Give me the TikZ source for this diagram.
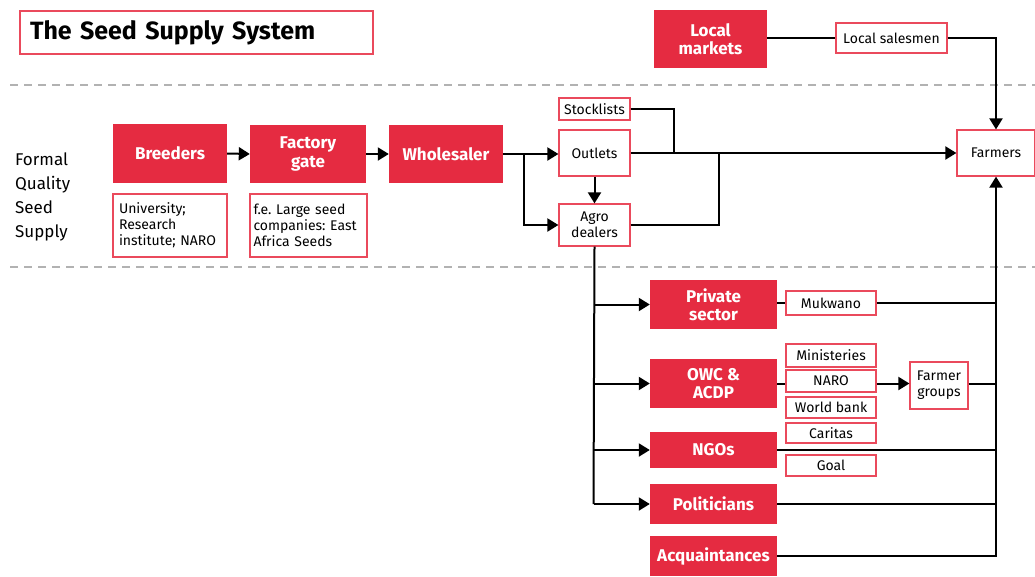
\documentclass[tikz,border=0pt]{standalone}
\usepackage{fontspec}
\setmainfont{Fira Sans}
\frenchspacing
\usetikzlibrary{arrows.meta,positioning}
\definecolor{sred}{HTML}{E52B41}
\definecolor{bred}{HTML}{EA4A5C}
\tikzset{
  redbox/.style={fill=sred,text=white,font=\bfseries\fontsize{17}{18.5}\selectfont,align=center,inner sep=0pt},
  wbox/.style={draw=bred,line width=1.2pt,fill=white,font=\fontsize{14}{16}\selectfont,align=center,inner sep=0pt},
  conn/.style={line width=2pt,line join=miter},
  arr/.style={conn,-{Triangle[length=11pt,width=13pt]}},
  sep/.style={draw=gray!60,line width=1.2pt,dash pattern=on 8pt off 6pt}
}
\begin{document}
\begin{tikzpicture}[x=1pt,y=-1pt]
\useasboundingbox (0,0) rectangle (1035,576);
% separators
\draw[sep] (10,85) -- (1035,85);
\draw[sep] (10,267) -- (1035,267);
% title
\node[draw=bred,line width=1.2pt,minimum width=353pt,minimum height=43pt,inner xsep=10pt,text width=333pt,align=left,font=\bfseries\fontsize{25}{28}\selectfont] (title) at (196.5,32.5) {The Seed Supply System};
% side label
\node[anchor=west,align=left,font=\fontsize{17}{24}\selectfont,inner sep=0pt] (formal) at (15,197) {Formal\\Quality\\Seed\\Supply};
% top
\node[redbox,minimum width=113pt,minimum height=58pt] (localm) at (710.5,39) {Local\\markets};
\node[wbox,minimum width=111pt,minimum height=30pt] (sales) at (891.5,38) {Local salesmen};
\node[wbox,minimum width=78pt,minimum height=46pt] (farmers) at (996,153) {Farmers};
% formal chain
\node[redbox,minimum width=114pt,minimum height=59pt] (breeders) at (170,153.5) {Breeders};
\node[redbox,minimum width=116pt,minimum height=58pt] (factory) at (308,154) {Factory\\gate};
\node[redbox,minimum width=114pt,minimum height=58pt] (whole) at (446,154) {Wholesaler};
\node[wbox,minimum width=114pt,minimum height=63pt,align=left,text width=102pt] (univ) at (170,225.5) {University;\\Research\\institute; NARO};
\node[wbox,minimum width=117pt,minimum height=63pt,align=left,text width=110pt] (fe) at (308.5,225.5) {f.e. Large seed\\companies: East\\Africa Seeds};
\node[wbox,minimum width=71pt,minimum height=22pt] (stock) at (594.5,109) {Stocklists};
\node[wbox,minimum width=71pt,minimum height=46pt] (outlets) at (594.5,153) {Outlets};
\node[wbox,minimum width=71pt,minimum height=42pt] (agro) at (594.5,225) {Agro\\dealers};
% lower
\node[redbox,minimum width=127pt,minimum height=49pt] (private) at (713.5,304.5) {Private\\sector};
\node[redbox,minimum width=127pt,minimum height=49pt] (owc) at (713.5,383.5) {OWC \&\\ACDP};
\node[redbox,minimum width=127pt,minimum height=36pt] (ngos) at (713.5,450) {NGOs};
\node[redbox,minimum width=127pt,minimum height=40pt] (pol) at (713.5,504) {Politicians};
\node[redbox,minimum width=127pt,minimum height=40pt] (acq) at (713.5,556) {Acquaintances};
\node[wbox,minimum width=90pt,minimum height=24pt] (mukwano) at (831,303) {Mukwano};
\node[wbox,minimum width=90pt,minimum height=23pt] (minis) at (831,355.5) {Ministeries};
\node[wbox,minimum width=90pt,minimum height=22pt] (naro) at (831,381) {NARO};
\node[wbox,minimum width=90pt,minimum height=21pt] (wb) at (831,407.5) {World bank};
\node[wbox,minimum width=90pt,minimum height=20pt] (caritas) at (831,433) {Caritas};
\node[wbox,minimum width=90pt,minimum height=21pt] (goal) at (831,465.5) {Goal};
\node[wbox,minimum width=58pt,minimum height=47pt] (fgroups) at (939,385.5) {Farmer\\groups};
% connectors top
\draw[conn] (sales.west -| localm.east) -- (sales.west);
\draw[arr] (sales.east) -| (farmers.north);
\draw[arr] (breeders.east) -- (factory.west);
\draw[arr] (factory.east) -- (whole.west);
\draw[arr] (whole.east) -- (outlets.west |- whole.east);
\draw[arr] ([xshift=21pt]whole.east) |- (agro.west);
\draw[conn] (stock.east) -| ([xshift=43pt]outlets.east);
\draw[arr] (outlets.east) -- (farmers.west);
\draw[conn] (agro.east) -| ([xshift=88pt]outlets.east);
\draw[arr] (outlets.south) -- (agro.north);
% connectors lower
\draw[conn] (agro.south) -- ([xshift=-1pt]agro.south |- pol.west);
\draw[arr] ([xshift=-1pt]agro.south |- private.west) -- (private.west);
\draw[arr] ([xshift=-1pt]agro.south |- owc.west) -- (owc.west);
\draw[arr] ([xshift=-1pt]agro.south |- ngos.west) -- (ngos.west);
\draw[arr] ([xshift=-1pt]agro.south |- pol.west) -- (pol.west);
\draw[conn] (mukwano.west -| private.east) -- (mukwano.west);
\draw[conn] (mukwano.east) -- (mukwano.east -| farmers.south);
\draw[conn] (owc.east) -- (owc.east -| naro.west);
\draw[arr] (owc.east -| naro.east) -- (owc.east -| fgroups.west);
\draw[conn] (owc.east -| fgroups.east) -- (owc.east -| farmers.south);
\draw[conn] (ngos.east) -- (ngos.east -| farmers.south);
\draw[conn] (pol.east) -- (pol.east -| farmers.south);
\draw[arr] (acq.east) -| (farmers.south);
\end{tikzpicture}
\end{document}
